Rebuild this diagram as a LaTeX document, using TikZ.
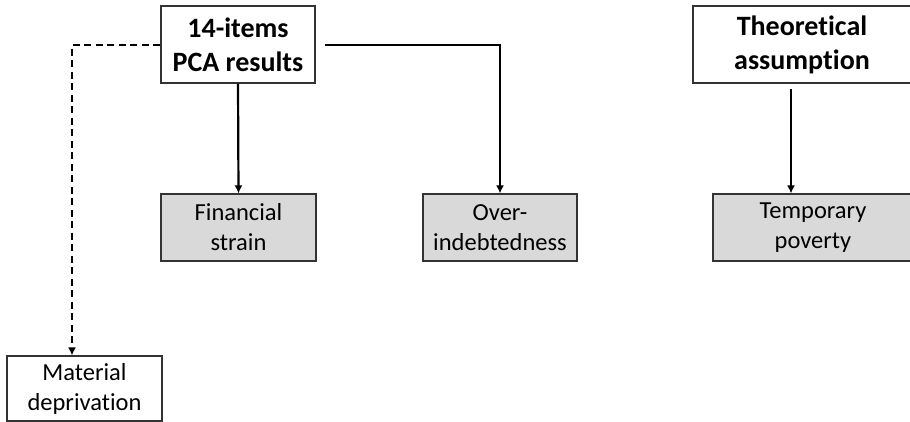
\documentclass[tikz,border=0pt]{standalone}
\usepackage{fontspec}
\setmainfont[Ligatures=NoCommon]{Carlito}
\usetikzlibrary{arrows.meta}
\definecolor{boxgray}{HTML}{D9D9D9}
\begin{document}
\begin{tikzpicture}[x=1pt,y=-1pt,
  topbox/.style={draw=black!80,line width=1.1pt,fill=white,rectangle,align=center,inner sep=0pt,
    font=\fontsize{28}{34}\selectfont\bfseries},
  outbox/.style={draw=black!80,line width=1.1pt,fill=boxgray,rectangle,align=center,inner sep=0pt,
    font=\fontsize{24.5}{30}\selectfont},
  plainbox/.style={outbox,fill=white},
  conn/.style={line width=2.2pt,-{Latex[length=8pt,width=8pt]}},
  dconn/.style={conn,dash pattern=on 7pt off 4.5pt}]
\useasboundingbox (0,0) rectangle (910,422);
\clip (0,0) rectangle (910,422);
\node[topbox,minimum width=154pt,minimum height=77pt] (pca) at (238,44.5) {14-items\\PCA results};
\node[topbox,minimum width=218pt,minimum height=77pt] (theo) at (802,44.5) {Theoretical\\assumption};
\node[outbox,minimum width=155pt,minimum height=67pt] (fin) at (238.5,227.5) {Financial\\strain};
\node[outbox,minimum width=154pt,minimum height=67pt] (over) at (500,227.5) {Over-\\indebtedness};
\node[outbox,minimum width=200pt,minimum height=67pt] (temp) at (813,227.5) {Temporary\\poverty};
\node[plainbox,minimum width=155pt,minimum height=65pt] (mat) at (84.5,388.5) {Material\\deprivation};
\coordinate (dc) at (72,45);
\coordinate (sc) at (325,45);
\coordinate (tc) at (791,89);
\draw[dconn] (pca.west |- dc) -- (dc) -- (dc |- mat.north);
\draw[conn] (pca.south) -- (fin.north);
\draw[conn] (sc) -| (over.north);
\draw[conn] (tc) -- (tc |- temp.north);
\end{tikzpicture}
\end{document}
